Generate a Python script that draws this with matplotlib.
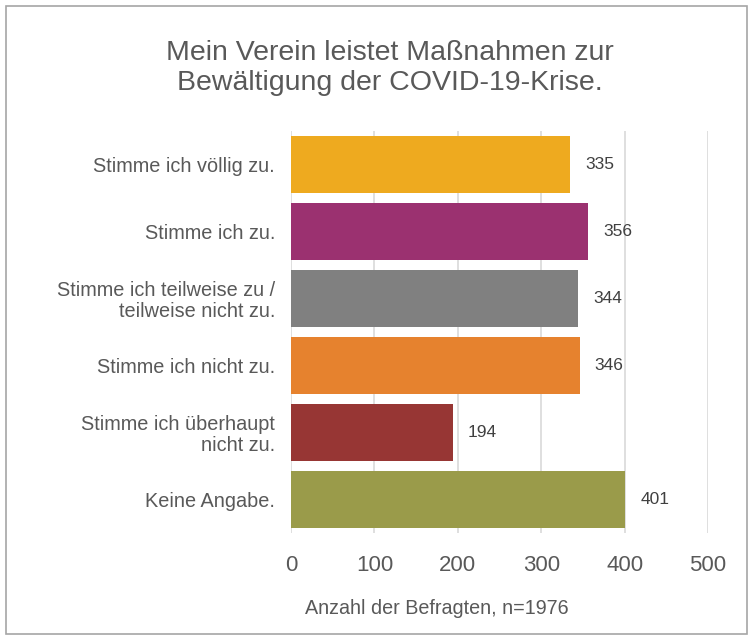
import matplotlib.pyplot as plt
from matplotlib.patches import Rectangle

plt.rcParams['font.family'] = ['Liberation Sans', 'DejaVu Sans']

categories = ['Stimme ich völlig zu.', 'Stimme ich zu.',
              'Stimme ich teilweise zu /\nteilweise nicht zu.',
              'Stimme ich nicht zu.', 'Stimme ich überhaupt\nnicht zu.',
              'Keine Angabe.']
values = [335, 356, 344, 346, 194, 401]
colors = ['#EEAA1F', '#9B3170', '#808080', '#E6822E', '#973634', '#9A9B4A']
xticks = [0, 100, 200, 300, 400, 500]

txt = '#595959'

fig = plt.figure(figsize=(7.55, 6.44), dpi=100)
fig.patches.append(Rectangle((6 / 755, 10 / 644), 741 / 755, 628 / 644,
                             transform=fig.transFigure, fill=False,
                             edgecolor='#A6A6A6', linewidth=1.2))

ax = fig.add_axes([291 / 755, 1 - 533 / 644, 417 / 755, 402 / 644])
pos = list(range(len(categories)))
bars = ax.barh(pos, values, height=0.84, color=colors, zorder=2)
ax.bar_label(bars, labels=[str(v) for v in values], padding=11,
             fontsize=12.5, color='#404040')

ax.set_ylim(len(categories) - 0.5, -0.5)
ax.set_xlim(0, 500)
ax.set_yticks(pos)
ax.set_yticklabels(categories, fontsize=14.3, color=txt, linespacing=1.1)
ax.set_xticks(xticks)
ax.set_xticklabels([str(t) for t in xticks], fontsize=16, color=txt)
ax.tick_params(axis='y', length=0, pad=11.5)
ax.tick_params(axis='x', length=0, pad=16)
for s in ax.spines.values():
    s.set_visible(False)
ax.grid(axis='x', color='#D9D9D9', linewidth=1.2, zorder=0)

fig.text(390 / 755, 1 - 68 / 644,
         'Mein Verein leistet Maßnahmen zur\nBewältigung der COVID-19-Krise.',
         ha='center', va='center', fontsize=20.5, color=txt, linespacing=1.22)
fig.text(437 / 755, 1 - 608 / 644, 'Anzahl der Befragten, n=1976',
         ha='center', va='center', fontsize=14.2, color=txt)

fig.savefig('out.png', dpi=100)
